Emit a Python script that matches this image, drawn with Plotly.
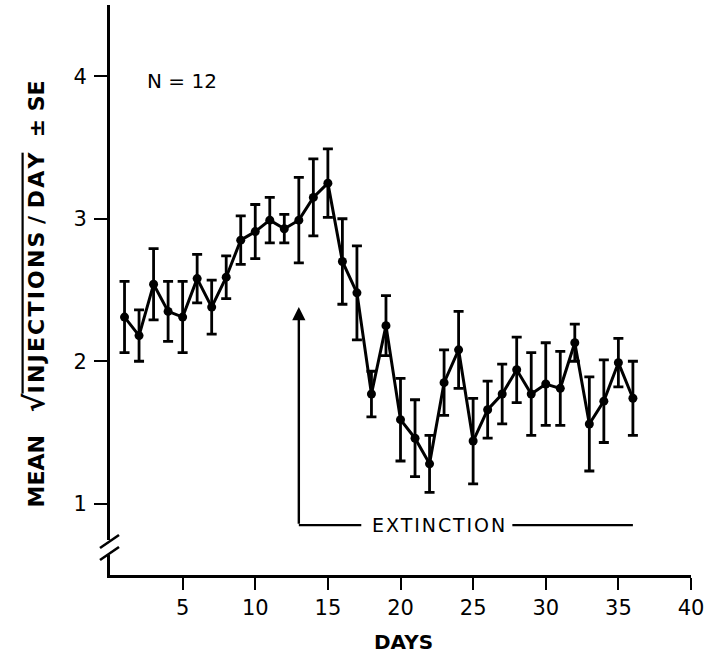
import plotly.graph_objects as go

days = list(range(1, 37))
mean_sqrt_inj = [2.31, 2.18, 2.54, 2.35, 2.31, 2.58, 2.38, 2.59, 2.85, 2.91,
                 2.99, 2.93, 2.99, 3.15, 3.25, 2.70, 2.48, 1.77, 2.25, 1.59,
                 1.46, 1.28, 1.85, 2.08, 1.44, 1.66, 1.77, 1.94, 1.77, 1.84,
                 1.81, 2.13, 1.56, 1.72, 1.99, 1.74]
se = [0.25, 0.18, 0.25, 0.21, 0.25, 0.17, 0.19, 0.15, 0.17, 0.19,
      0.16, 0.10, 0.30, 0.27, 0.24, 0.30, 0.33, 0.16, 0.21, 0.29,
      0.27, 0.20, 0.23, 0.27, 0.30, 0.20, 0.21, 0.23, 0.29, 0.29,
      0.26, 0.13, 0.33, 0.29, 0.17, 0.26]
x_ticks = [5, 10, 15, 20, 25, 30, 35, 40]
y_ticks = [1, 2, 3, 4]
extinction_start = 13
extinction_end = 36
n_subjects = 12

FONT = "DejaVu Sans"
W, H = 710, 670
L, R, T, B = 110, 19, 5, 95
PW, PH = W - L - R, H - T - B


def px(xp):
    return (xp - L) / PW


def py(yp):
    return (H - B - yp) / PH


fig = go.Figure()
fig.add_trace(go.Scatter(
    x=days, y=mean_sqrt_inj, mode="lines+markers",
    line=dict(color="black", width=3),
    marker=dict(color="black", size=9),
    error_y=dict(type="data", array=se, visible=True, color="black",
                 thickness=2.8, width=5),
    showlegend=False, cliponaxis=False,
))

shapes = []
# y-axis break: white gap + slashes
shapes.append(dict(type="rect", xref="paper", yref="paper",
                   x0=px(104), x1=px(116), y0=py(555), y1=py(540),
                   fillcolor="white", line=dict(width=0), layer="above"))
for y0 in (548, 560):
    shapes.append(dict(type="line", xref="paper", yref="paper",
                       x0=px(100), y0=py(y0), x1=px(119), y1=py(y0 - 13),
                       line=dict(color="black", width=2.6), layer="above"))
# extinction bracket lines
ext_y = 0.85
shapes.append(dict(type="line", xref="x", yref="y",
                   x0=extinction_start, x1=extinction_start + 4.3,
                   y0=ext_y, y1=ext_y, line=dict(color="black", width=2.4)))
shapes.append(dict(type="line", xref="x", yref="y",
                   x0=extinction_start + 14.7, x1=extinction_end,
                   y0=ext_y, y1=ext_y, line=dict(color="black", width=2.4)))

NB = "\u00a0"
HS = "\u200a"
inner = HS.join(list("INJECTIONS")) + NB + "/" + NB + HS.join(list("DAY"))
ytitle = ("<b>MEAN" + NB * 3 + "<span style='font-size:28px'>\u221a</span>"
          "<span style='text-decoration:overline'>" + inner + "</span>"
          + NB * 2 + "\u00b1" + NB + "SE</b>")

annotations = [
    dict(x=extinction_start, y=2.38, ax=extinction_start, ay=ext_y,
         xref="x", yref="y", axref="x", ayref="y", text="",
         showarrow=True, arrowhead=2, arrowsize=1.1, arrowwidth=2.4,
         arrowcolor="black"),
    dict(x=22.6, y=ext_y,
         xref="x", yref="y", text="E\u200aX\u200aT\u200aI\u200aN\u200aC\u200aT\u200aI\u200aO\u200aN",
         showarrow=False, font=dict(family=FONT, size=19, color="black")),
    dict(x=4.95, y=3.97, xref="x", yref="y", text=f"N = {n_subjects}",
         showarrow=False, font=dict(family=FONT, size=20, color="black")),
    dict(x=px(403), y=py(656), xref="paper", yref="paper", text="<b>DAYS</b>",
         showarrow=False, font=dict(family=FONT, size=20, color="black")),
    dict(x=px(15), y=py(294), xref="paper", yref="paper", textangle=-90,
         text=ytitle,
         showarrow=False, font=dict(family=FONT, size=22, color="black")),
]

fig.update_layout(
    width=W, height=H,
    margin=dict(l=L, r=R, t=T, b=B),
    paper_bgcolor="white", plot_bgcolor="white",
    font=dict(family=FONT, color="black"),
    xaxis=dict(range=[0, 40], tickvals=x_ticks, ticks="outside", ticklen=12,
               tickwidth=2.4, tickcolor="black", showline=True, linewidth=3,
               linecolor="black", showgrid=False, zeroline=False,
               tickfont=dict(family=FONT, size=21, color="black")),
    yaxis=dict(range=[0.5, 4.5], tickvals=y_ticks, ticks="outside", ticklen=13,
               tickwidth=2.4, tickcolor="black", showline=True, linewidth=3,
               linecolor="black", showgrid=False, zeroline=False,
               ticklabelstandoff=3,
               tickfont=dict(family=FONT, size=21, color="black")),
    shapes=shapes,
    annotations=annotations,
)

fig.write_html("out.html")
